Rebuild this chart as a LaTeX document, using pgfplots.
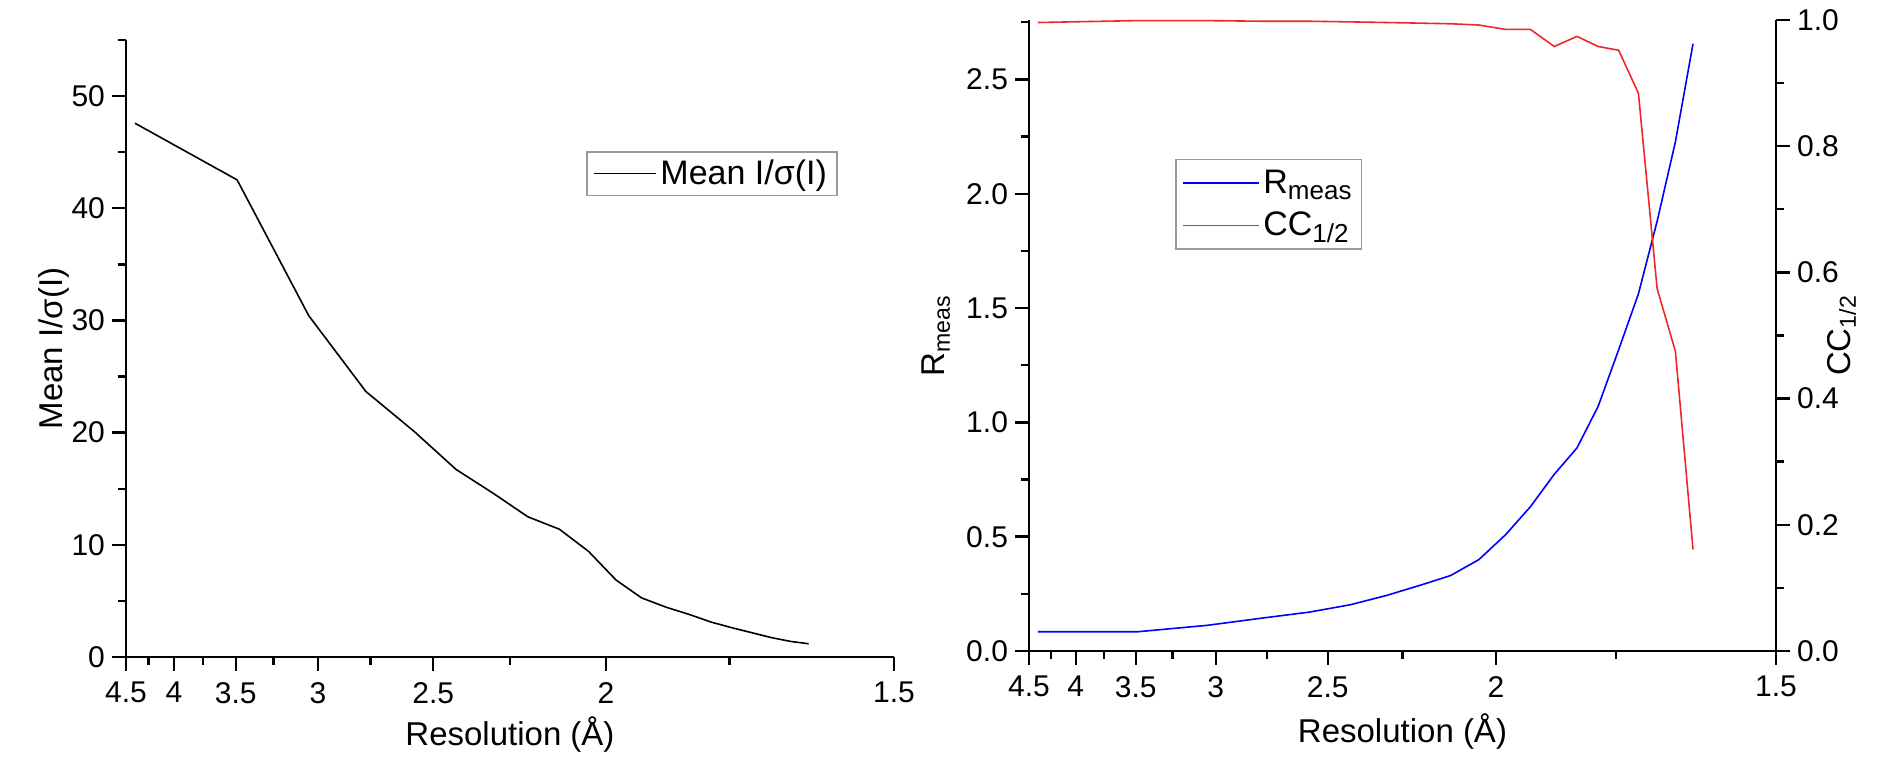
\documentclass[border=0pt]{standalone}
\usepackage{fontspec}
\setmainfont{Liberation Sans}
\usepackage{pgfplots}
\pgfplotsset{compat=1.18}
\usepackage{pgfplotstable}

% Merging statistics per resolution shell (d in angstrom)
\pgfplotstableread{
d      isig   rmeas  cc
4.397  47.58  0.084  0.996
3.490  42.53  0.084  0.999
3.049  30.43  0.112  0.999
2.770  23.67  0.144  0.998
2.571  20.11  0.170  0.998
2.420  16.72  0.202  0.997
2.299  14.57  0.243  0.996
2.199  12.50  0.287  0.995
2.114  11.39  0.330  0.994
2.041   9.41  0.400  0.992
1.977   6.86  0.509  0.985
1.921   5.27  0.631  0.985
1.870   4.44  0.773  0.958
1.824   3.79  0.888  0.974
1.783   3.11  1.070  0.958
1.745   2.60  1.318  0.952
1.710   2.15  1.562  0.884
1.678   1.72  1.880  0.574
1.648   1.39  2.227  0.475
1.620   1.18  2.656  0.161
}\shells

\definecolor{ccred}{RGB}{238,40,40}
% larger subscripts for the legend and axis titles
\newcommand{\lsub}[1]{\raisebox{-0.35ex}{\fontsize{13}{13}\selectfont #1}}

\pgfplotsset{
  resol/.style={
    scale only axis,
    anchor=south west,
    xmin=0.22222, xmax=0.66667,
    xtick={0.22222,0.25,0.28571,0.33333,0.4,0.5,0.66667},
    xticklabels={4.5,4,3.5,3,2.5,2,1.5},
    minor xtick={0.23529,0.26667,0.30769,0.36364,0.44444,0.57143},
    tick align=outside,
    major tick length=7pt,
    minor tick length=4pt,
    tick style={black, line width=1.2pt},
    axis line style={line width=1.4pt},
    tick label style={font=\fontsize{15}{17}\selectfont},
    xticklabel style={yshift=-2pt},
    label style={font=\fontsize{16.5}{19}\selectfont},
    /pgf/number format/assume math mode=true,
    legend cell align=left,
  },
}

\begin{document}
\begin{tikzpicture}
\path[use as bounding box] (0,0) rectangle (947pt,390pt);

% Left panel: mean signal-to-noise
\begin{axis}[resol,
  at={(63pt,61.5pt)}, width=384pt, height=308.5pt,
  axis x line*=bottom, axis y line*=left,
  ymin=0, ymax=55,
  ytick={0,10,20,30,40,50},
  minor ytick={5,15,25,35,45,55},
  xlabel={Resolution (Å)},
  ylabel={Mean I/σ(I)},
  xlabel style={at={(axis description cs:0.5,-0.125)}, anchor=center},
  ylabel style={at={(axis description cs:-0.094,0.5)}, anchor=center},
  legend image code/.code={\draw[#1] (0pt,0pt) -- (31pt,0pt);},
  legend style={at={(0.599,0.82)}, anchor=north west, draw=gray!80,
    line width=0.8pt, font=\fontsize{17}{20}\selectfont,
    inner xsep=3pt, inner ysep=2pt},
]
\addplot[black, line width=0.8pt] table[x expr={1/\thisrow{d}}, y=isig] {\shells};
\addlegendentry{Mean I/σ(I)}
\end{axis}

% Right panel: Rmeas (left scale)
\begin{axis}[resol,
  at={(514.5pt,64.5pt)}, width=373.5pt, height=315.5pt,
  axis x line*=bottom, axis y line*=left,
  ymin=0, ymax=2.76,
  ytick={0,0.5,1,1.5,2,2.5},
  minor ytick={0.25,0.75,1.25,1.75,2.25,2.75},
  yticklabel style={/pgf/number format/.cd, fixed, fixed zerofill, precision=1},
  xlabel={Resolution (Å)},
  ylabel={R\textsubscript{meas}},
  xlabel style={at={(axis description cs:0.5,-0.128)}, anchor=center},
  ylabel style={at={(axis description cs:-0.1245,0.5)}, anchor=center},
  legend image code/.code={\draw[#1] (0pt,0pt) -- (38pt,0pt);},
  legend style={at={(0.1954,0.78)}, anchor=north west, draw=gray!80,
    line width=0.8pt, font=\fontsize{17}{20}\selectfont,
    inner xsep=3pt, inner ysep=3pt, row sep=4pt},
]
\addplot[blue, line width=0.8pt] table[x expr={1/\thisrow{d}}, y=rmeas] {\shells};
\addlegendentry{R\lsub{meas}}
\addlegendimage{ccred, line width=0.8pt}
\addlegendentry{CC\lsub{1/2}}
\end{axis}

% Right panel: CC1/2 (right scale)
\begin{axis}[resol,
  at={(514.5pt,64.5pt)}, width=373.5pt, height=315.5pt,
  axis x line=none, axis y line*=right,
  ymin=0, ymax=1,
  ytick={0,0.2,0.4,0.6,0.8,1},
  minor ytick={0.1,0.3,0.5,0.7,0.9},
  yticklabel style={/pgf/number format/.cd, fixed, fixed zerofill, precision=1},
  ylabel={CC\textsubscript{1/2}},
  ylabel style={at={(axis description cs:1.088,0.5)}, anchor=center},
]
\addplot[ccred, line width=0.8pt] table[x expr={1/\thisrow{d}}, y=cc] {\shells};
\end{axis}
\end{tikzpicture}
\end{document}
